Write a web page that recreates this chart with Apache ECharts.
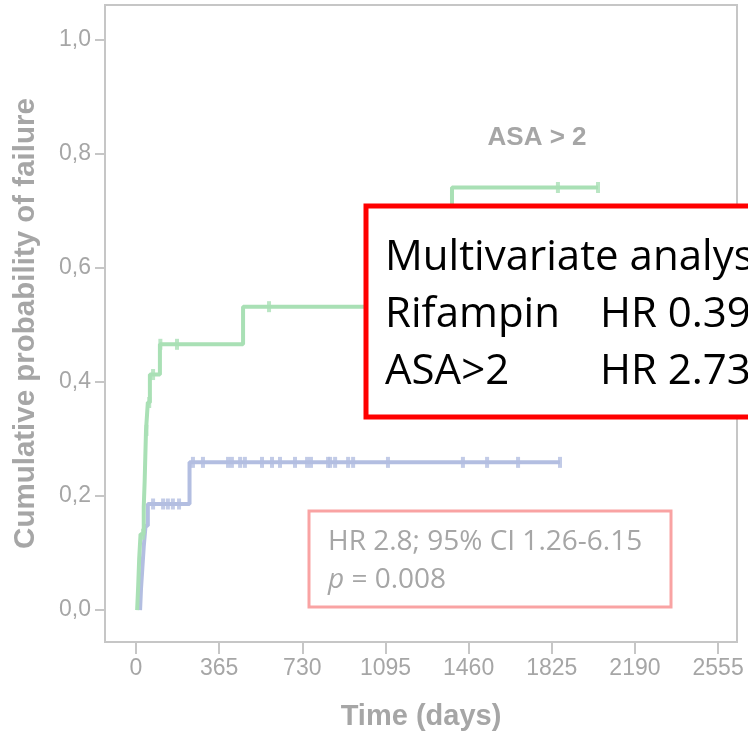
<!DOCTYPE html>
<html>
<head>
<meta charset="utf-8">
<script src="https://cdn.jsdelivr.net/npm/echarts@6/dist/echarts.min.js"></script>
<style>
  html, body { margin: 0; padding: 0; background: #fff; }
  #main { width: 748px; height: 736px; }
</style>
</head>
<body>
<div id="main"></div>
<script>
// 刻度
var xTicks = [0, 365, 730, 1095, 1460, 1825, 2190, 2555];
var yTicks = [0, 0.2, 0.4, 0.6, 0.8, 1.0];

// ASA > 2 组 (绿色): 事件点 [天, 累计失败概率]
var greenSteps = [[5, 0], [10, 0.045], [14, 0.09], [20, 0.133], [34, 0.18], [38, 0.225],
	[41, 0.27], [44, 0.315], [52, 0.364], [61, 0.413], [105, 0.466], [470, 0.532], [1387, 0.741]];
var greenCensor = [31, 46, 58, 75, 107, 180, 584, 1852, 2028];

// ASA <= 2 组 (蓝色)
var blueSteps = [[18, 0], [22, 0.037], [28, 0.074], [34, 0.111], [42, 0.148], [52, 0.186], [235, 0.259]];
var blueCensor = [75, 119, 140, 162, 189, 250, 294, 404, 421, 457, 478, 553, 597, 632, 698,
	751, 768, 843, 852, 874, 931, 953, 1106, 1435, 1541, 1677, 1861];

var GREEN = '#a9e0b5', BLUE = '#b3bee1', GREY = '#a6a6a6', FRAME = '#c6c6c6';

// 阶梯函数取值
function valueAt(steps, day) {
	var v = 0;
	for (var i = 0; i < steps.length; i++) {
		if (steps[i][0] <= day) v = steps[i][1];
	}
	return v;
}
function lineData(steps, censor) {
	var d = steps.slice();
	var last = censor[censor.length - 1];
	d.push([last, valueAt(steps, last)]);
	return d;
}
function censorData(steps, censor) {
	return censor.map(function(c) { return [c, valueAt(steps, c)]; });
}

var chart = echarts.init(document.getElementById('main'));

var option = {
	animation: false,
	grid: {
		left: 105, top: 5, width: 632, height: 638,
		show: true, borderColor: FRAME, borderWidth: 2, backgroundColor: '#fff'
	},
	xAxis: {
		type: 'value', min: -136, max: 2638,
		axisLine: { show: false, onZero: false },
		splitLine: { show: false },
		axisTick: { show: true, length: 12, customValues: xTicks, lineStyle: { color: FRAME, width: 2 } },
		axisLabel: {
			customValues: xTicks, color: GREY, fontSize: 23, margin: 15, fontFamily: 'Liberation Sans, Arial',
			formatter: function(v) { return String(v); }
		},
		name: 'Time (days)', nameLocation: 'middle', nameGap: 60,
		nameTextStyle: { color: GREY, fontSize: 29, fontWeight: 'bold', fontFamily: 'Liberation Sans, Arial' }
	},
	yAxis: {
		type: 'value', min: -0.056, max: 1.061,
		axisLine: { show: false, onZero: false },
		splitLine: { show: false },
		axisTick: { show: true, length: 10, customValues: yTicks, lineStyle: { color: FRAME, width: 2 } },
		axisLabel: {
			customValues: yTicks, color: GREY, fontSize: 23, margin: 14, fontFamily: 'Liberation Sans, Arial',
			formatter: function(v) { return v.toFixed(1).replace('.', ','); }
		},
		name: 'Cumulative probability of failure', nameLocation: 'middle', nameGap: 64, nameRotate: 90,
		nameTextStyle: { color: GREY, fontSize: 29.5, fontWeight: 'bold', fontFamily: 'Liberation Sans, Arial' }
	},
	series: [
		{
			type: 'line', step: 'end', showSymbol: false, data: lineData(blueSteps, blueCensor),
			lineStyle: { color: BLUE, width: 4 }, z: 3
		},
		{
			type: 'scatter', symbol: 'rect', symbolSize: [4, 11], data: censorData(blueSteps, blueCensor),
			itemStyle: { color: BLUE }, z: 3
		},
		{
			type: 'line', step: 'end', showSymbol: false, data: lineData(greenSteps, greenCensor),
			lineStyle: { color: GREEN, width: 4 }, z: 4
		},
		{
			type: 'scatter', symbol: 'rect', symbolSize: [4, 11], data: censorData(greenSteps, greenCensor),
			itemStyle: { color: GREEN }, z: 4
		}
	],
	graphic: [
		{
			type: 'text', z: 50, x: 537, y: 138,
			style: { text: 'ASA > 2', fill: GREY, font: 'bold 26px "Liberation Sans", Arial', textAlign: 'center', textVerticalAlign: 'middle' }
		},
		// 多因素分析框
		{
			type: 'rect', z: 100,
			shape: { x: 366, y: 206, width: 400, height: 211 },
			style: { fill: '#fff', stroke: '#ff0000', lineWidth: 5 }
		},
		{
			type: 'text', z: 101, x: 385, y: 258,
			style: { text: 'Multivariate analysis', fill: '#000', font: '42px "Open Sans"', textVerticalAlign: 'middle' }
		},
		{
			type: 'text', z: 101, x: 385, y: 315,
			style: { text: 'Rifampin', fill: '#000', font: '42px "Open Sans"', textVerticalAlign: 'middle' }
		},
		{
			type: 'text', z: 101, x: 600, y: 315,
			style: { text: 'HR 0.39', fill: '#000', font: '42px "Open Sans"', textVerticalAlign: 'middle' }
		},
		{
			type: 'text', z: 101, x: 385, y: 372,
			style: { text: 'ASA>2', fill: '#000', font: '42px "Open Sans"', textVerticalAlign: 'middle' }
		},
		{
			type: 'text', z: 101, x: 600, y: 372,
			style: { text: 'HR 2.73', fill: '#000', font: '42px "Open Sans"', textVerticalAlign: 'middle' }
		},
		// HR 框
		{
			type: 'rect', z: 100,
			shape: { x: 309, y: 511, width: 362, height: 96 },
			style: { fill: '#fff', stroke: '#f9a3a3', lineWidth: 3 }
		},
		{
			type: 'text', z: 101, x: 328, y: 542,
			style: { text: 'HR 2.8; 95% CI 1.26-6.15', fill: GREY, font: '28px "Open Sans"', textVerticalAlign: 'middle' }
		},
		{
			type: 'text', z: 101, x: 328, y: 580,
			style: {
				text: '{i|p} = 0.008', fill: GREY, font: '28px "Open Sans"', textVerticalAlign: 'middle',
				rich: { i: { fontStyle: 'italic', fontSize: 28, fontFamily: 'Open Sans', color: GREY } }
			}
		}
	]
};

chart.setOption(option);
window.onresize = function() {
	chart.resize();
};
</script>
</body>
</html>
